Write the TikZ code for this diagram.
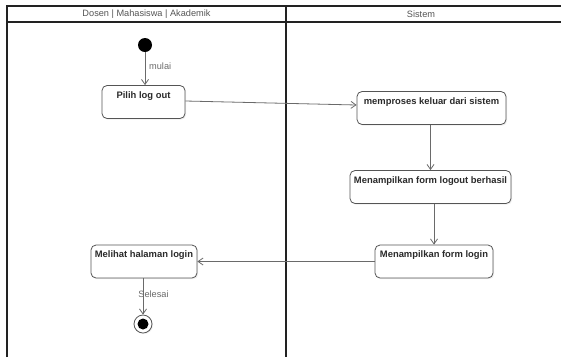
\documentclass[tikz,border=0pt]{standalone}
\usepackage{fontspec}
\setmainfont{Liberation Sans}
\usetikzlibrary{arrows.meta,shadows}
\definecolor{frameline}{HTML}{222222}
\definecolor{boxline}{HTML}{555555}
\definecolor{flowline}{HTML}{6A6A6A}
\definecolor{boxtext}{HTML}{2A2A2A}
\definecolor{lanetext}{HTML}{555555}
\tikzset{
  lane/.style={draw=frameline, line width=1.3pt},
  lanetitle/.style={font=\fontsize{9.2}{11}\selectfont, text=lanetext, inner sep=0pt},
  action/.style={draw=boxline, line width=0.8pt, rounded corners=5pt, fill=white,
    font=\bfseries\fontsize{9.4}{11}\selectfont, text=boxtext,
    inner xsep=2pt, inner ysep=3pt, text height=9.5pt, text depth=17.5pt,
    drop shadow={shadow xshift=1.2pt, shadow yshift=-1.2pt, fill=black!12}},
  flow/.style={draw=flowline, line width=0.8pt, -{Straight Barb[length=5pt,width=7pt]}},
  guard/.style={font=\fontsize{9.2}{11}\selectfont, text=flowline, inner sep=0pt},
  initial/.style={circle, fill=black, minimum size=14pt, inner sep=0pt},
  final/.style={circle, draw=boxline, line width=0.8pt, fill=white, minimum size=18pt, inner sep=0pt,
    drop shadow={shadow xshift=1pt, shadow yshift=-1pt, fill=black!12}},
}
\begin{document}
\begin{tikzpicture}[x=1pt, y=-1pt]
\useasboundingbox (0,0) rectangle (561,360);
\fill[white] (0,0) rectangle (561,360);

% swimlane frame
\draw[lane] (7,357) -- (7,6) -- (561,6);
\draw[lane] (7,22) -- (561,22);
\draw[lane] (286,6) -- (286,357);
\node[lanetitle] (laneA) at (146.5,14.5) {Dosen | Mahasiswa | Akademik};
\node[lanetitle] (laneB) at (421,14.5) {Sistem};

% activity nodes
\node[initial] (start) at (145,45) {};
\node[action, minimum width=83pt] (pilih) at (143.5,102) {Pilih log out};
\node[action, minimum width=149pt] (proses) at (431.5,108) {memproses keluar dari sistem};
\node[action, minimum width=161pt] (berhasil) at (430.5,187) {Menampilkan form logout berhasil};
\node[action, minimum width=118pt] (login) at (434,261.5) {Menampilkan form login};
\node[action, minimum width=106pt] (melihat) at (144,261.5) {Melihat halaman login};
\node[final] (end) at (143,324) {};
\node[circle, fill=black, minimum size=11pt, inner sep=0pt] (endcore) at (end) {};

% control flow
\draw[flow] (start.south) -- (start.south |- pilih.north);
\node[guard, anchor=west] (mulai) at (149,66) {mulai};
\draw[flow] ([yshift=1pt]pilih.east) -- ([yshift=3pt]proses.west);
\draw[flow] (proses.south -| berhasil.north) -- (berhasil.north);
\draw[flow] (login.north |- berhasil.south) -- (login.north);
\draw[flow] (login.west) -- (melihat.east);
\draw[flow] (end.north |- melihat.south) -- (end.north);
\node[guard] (selesai) at (153.5,294) {Selesai};
\end{tikzpicture}
\end{document}
